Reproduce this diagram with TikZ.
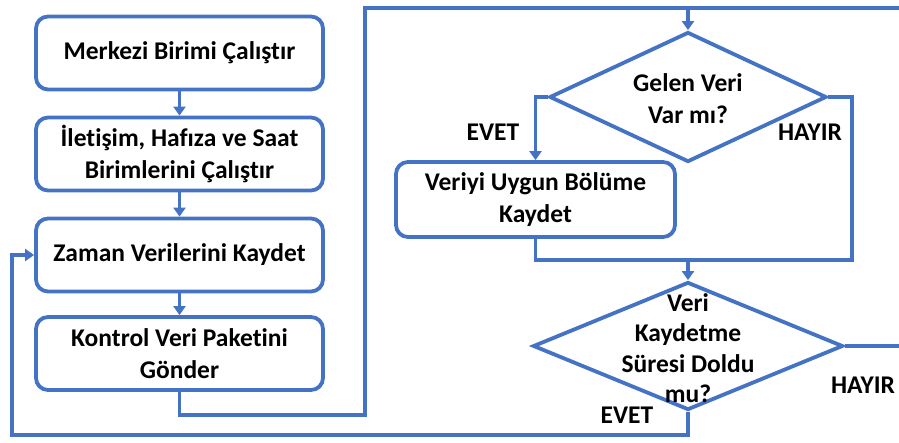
\documentclass[tikz,border=0pt]{standalone}
\usepackage{fontspec}
\setmainfont{Carlito}[Ligatures=NoCommon]
\usetikzlibrary{arrows.meta,shapes.geometric}
\definecolor{flow}{HTML}{4472C4}

\begin{document}
\begin{tikzpicture}[x=1pt,y=-1pt,
  every node/.style={font=\bfseries\fontsize{25.5}{32}\selectfont, text=black},
  box/.style={draw=flow, line width=3.8pt, rounded corners=12pt, fill=white,
    minimum width=287pt, minimum height=73pt, align=center, inner sep=0pt},
  dia/.style={diamond, draw=flow, line width=3.8pt, inner sep=0pt},
  txt/.style={align=center, inner sep=0pt},
  link/.style={draw=flow, line width=3.8pt},
  arr/.style={link, -{Triangle[width=12pt,length=9pt]}}]
\useasboundingbox (0,0) rectangle (899,442);

% left column of process steps
\node[box] (b1) at (179.5,53) {Merkezi Birimi Çalıştır};
\node[box] (b2) at (179.5,154) {İletişim, Hafıza ve Saat\\Birimlerini Çalıştır};
\node[box] (b3) at (179.5,255) {Zaman Verilerini Kaydet};
\node[box] (b4) at (179.5,353.5) {Kontrol Veri Paketini\\Gönder};

% decisions and storing step on the right
\node[dia, minimum width=277pt, minimum height=130pt] (d1) at (688,97) {};
\node[txt] (d1t) at (688,99) {Gelen Veri\\Var mı?};
\node[box, minimum width=279pt, minimum height=75pt] (b5) at (535.5,199.5) {Veriyi Uygun Bölüme\\Kaydet};
\node[dia, minimum width=310pt, minimum height=128pt] (d2) at (688,346) {};
\node[txt, font=\bfseries\fontsize{25.5}{30.5}\selectfont] (d2t) at (688,348) {Veri\\Kaydetme\\Süresi Doldu\\mu?};

% branch labels
\node (e1) at (493,132) {EVET};
\node (h1) at (810,132) {HAYIR};
\node (h2) at (863,385) {HAYIR};
\node (e2) at (627,415) {EVET};

% routing points
\coordinate (ma) at (365,415);
\coordinate (tl) at (365,8);
\coordinate (tm) at (688,8);
\coordinate (tr) at (899,8);
\coordinate (hr) at (852,260);
\coordinate (jn) at (688,260);
\coordinate (re) at (899,346);
\coordinate (lb) at (12,435);

% connectors
\draw[arr] (b1) -- (b2);
\draw[arr] (b2) -- (b3);
\draw[arr] (b3) -- (b4);
\draw[link] (b4.south) |- (ma) -- (tl) -- (tr);
\draw[arr] (tm) -- (d1.north);
\draw[arr] (d1.west) -| (b5.north);
\draw[link] (d1.east) -| (hr) -- (jn);
\draw[link] (b5.south) |- (jn);
\draw[arr] (jn) -- (d2.north);
\draw[link] (d2.east) -- (re);
\draw[arr] (d2.south) |- (lb) |- (b3.west);
\end{tikzpicture}
\end{document}
